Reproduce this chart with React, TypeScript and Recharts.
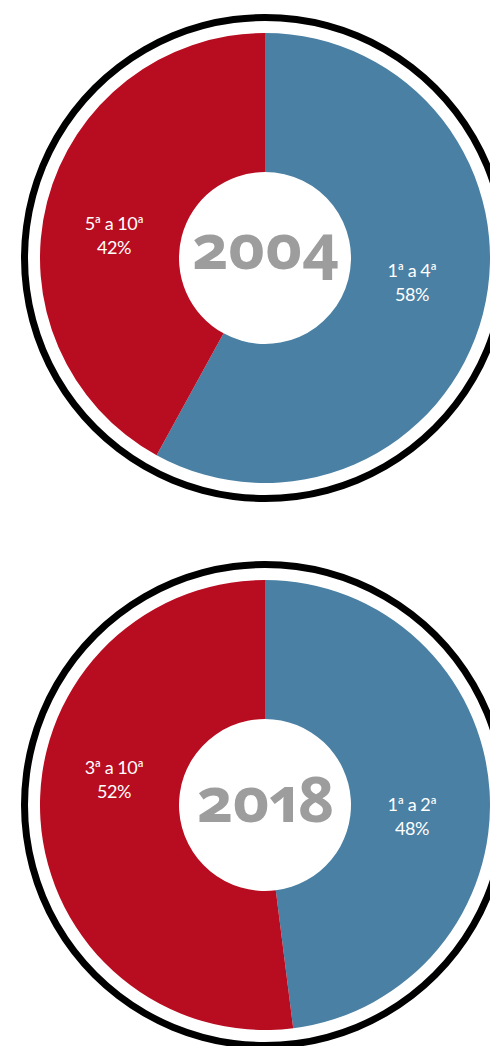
import { Cell, Pie, PieChart } from "recharts";

const anos = ["2004", "2018"];
const grupos2004 = ["1ª a 4ª", "5ª a 10ª"];
const valores2004 = [58, 42];
const grupos2018 = ["1ª a 2ª", "3ª a 10ª"];
const valores2018 = [48, 52];

const CORES = ["#4a80a3", "#b80c20"];
// baseline offset of first label line, per slice (right, left)
const LABEL_DY = [
  [19, -28],
  [6, -31],
];
const YEAR_DY = [11, 17];

const anel = [{ value: 1 }];

function makeData(grupos: string[], valores: number[]) {
  return grupos.map((g, i) => ({ name: g, value: valores[i] }));
}

function Donut({
  ano,
  data,
  dys,
  yearDy,
}: {
  ano: string;
  data: { name: string; value: number }[];
  dys: number[];
  yearDy: number;
}) {
  const renderLabel = (p: any) => {
    const left = Math.cos((-p.midAngle * Math.PI) / 180) < 0;
    const x = p.cx + (left ? -151 : 147);
    const y = p.cy + dys[p.index];
    return (
      <g>
        <text x={x} y={y} textAnchor="middle" fill="#fff" fontFamily="Lato" fontSize={18} letterSpacing={-0.5}>
          <tspan x={x}>{p.name}</tspan>
          <tspan x={x} dy={24}>
            {p.value}%
          </tspan>
        </text>
        {p.index === 0 && (
          <text
            x={p.cx}
            y={p.cy + yearDy}
            textAnchor="middle"
            fill="#9d9d9d"
            fontFamily="Noto Sans"
            fontWeight={700}
            fontSize={63}
            letterSpacing={-1}
            style={{ fontVariantNumeric: "oldstyle-nums proportional-nums" }}
          >
            {ano}
          </text>
        )}
      </g>
    );
  };

  return (
    <PieChart width={520} height={547} margin={{ top: 0, right: 0, bottom: 0, left: 0 }}>
      <Pie
        data={anel}
        dataKey="value"
        cx={265}
        cy={258}
        innerRadius={237}
        outerRadius={244}
        fill="#000"
        stroke="none"
        isAnimationActive={false}
      />
      <Pie
        data={data}
        dataKey="value"
        cx={265}
        cy={258}
        innerRadius={86}
        outerRadius={225}
        startAngle={90}
        endAngle={-270}
        stroke="none"
        label={renderLabel}
        labelLine={false}
        isAnimationActive={false}
      >
        {data.map((d, i) => (
          <Cell key={d.name} fill={CORES[i]} />
        ))}
      </Pie>
    </PieChart>
  );
}

export default function App() {
  return (
    <div
      style={{
        position: "absolute",
        left: 0,
        top: 0,
        width: 490,
        height: 1046,
        overflow: "hidden",
        background: "#fff",
      }}
    >
      <Donut ano={anos[0]} data={makeData(grupos2004, valores2004)} dys={LABEL_DY[0]} yearDy={YEAR_DY[0]} />
      <Donut ano={anos[1]} data={makeData(grupos2018, valores2018)} dys={LABEL_DY[1]} yearDy={YEAR_DY[1]} />
    </div>
  );
}
